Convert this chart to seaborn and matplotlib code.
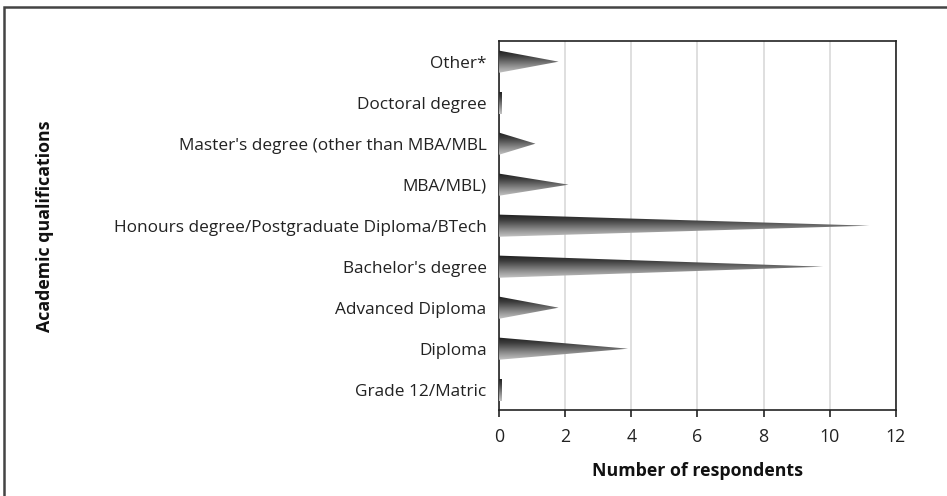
import matplotlib
matplotlib.use("Agg")
import matplotlib.pyplot as plt
from matplotlib.patches import Polygon, Rectangle
from matplotlib.colors import LinearSegmentedColormap
import numpy as np
import pandas as pd
import seaborn as sns

# Data
qualifications = [
    "Other*",
    "Doctoral degree",
    "Master's degree (other than MBA/MBL",
    "MBA/MBL)",
    "Honours degree/Postgraduate Diploma/BTech",
    "Bachelor's degree",
    "Advanced Diploma",
    "Diploma",
    "Grade 12/Matric",
]
respondents = [1.8, 0.1, 1.1, 2.1, 11.2, 9.8, 1.8, 3.9, 0.1]
x_ticks = [0, 2, 4, 6, 8, 10, 12]

df = pd.DataFrame({"qualification": qualifications, "respondents": respondents})

sns.set_theme(style="white")
plt.rcParams["font.family"] = ["Open Sans", "DejaVu Sans"]

fig = plt.figure(figsize=(9.47, 4.96), dpi=100)
ax = fig.add_axes([0.527, 0.173, 0.419, 0.744])

# seaborn lays out the categorical bars; they are then replaced by cones
sns.barplot(data=df, y="qualification", x="respondents", order=qualifications,
            orient="h", width=0.54, color="white", ax=ax, zorder=3)

cmap = LinearSegmentedColormap.from_list(
    "cone", ["#1e1e1e", "#3c3c3c", "#6a6a6a", "#9a9a9a", "#c4c4c4"])
grad = np.linspace(0, 1, 256).reshape(-1, 1)

for bar in list(ax.patches):
    x0 = bar.get_x()
    y0 = bar.get_y()
    h = bar.get_height()
    w = bar.get_width()
    bar.set_visible(False)
    if w < 0.2:
        # very small values show as a thin stub
        pts = [(x0, y0), (x0 + w, y0), (x0 + w, y0 + h), (x0, y0 + h)]
    else:
        pts = [(x0, y0), (x0, y0 + h), (x0 + w, y0 + h * 0.5)]
    poly = Polygon(pts, closed=True, facecolor="none", edgecolor="none", zorder=3)
    ax.add_patch(poly)
    # y axis is inverted: y0 is the upper edge of the cone
    im = ax.imshow(grad, cmap=cmap, aspect="auto", interpolation="bilinear",
                   extent=(x0, x0 + max(w, 0.01), y0 + h, y0), zorder=3)
    im.set_clip_path(poly)

ax.set_xlim(0, 12)
ax.set_ylim(len(qualifications) - 0.5, -0.5)
ax.set_xticks(x_ticks)
ax.set_xticklabels([str(t) for t in x_ticks])
ax.xaxis.grid(True, color="#d9d9d9", linewidth=1.2, zorder=0)
ax.yaxis.grid(False)
ax.set_axisbelow(True)

for s in ax.spines.values():
    s.set_visible(True)
    s.set_color("#222222")
    s.set_linewidth(1.2)

ax.tick_params(axis="x", which="major", bottom=True, length=5, width=1.2,
               color="#222222", labelsize=12.8, pad=8, labelcolor="#222222")
ax.tick_params(axis="y", left=False, labelsize=12.4, pad=3, labelcolor="#222222")

ax.set_xlabel("Number of respondents", fontsize=12.8, fontweight="bold",
              labelpad=11, color="#111111")
ax.set_ylabel("")
fig.text(0.0475, 0.544, "Academic qualifications", rotation=90, fontsize=12.8,
         fontweight="bold", ha="center", va="center", color="#111111")

# outer frame (right and bottom edges fall outside the image)
fig.patches.append(Rectangle((4 / 947, -0.1), 1.2, 1.1 - 7 / 496,
                             transform=fig.transFigure, fill=False,
                             edgecolor="#444444", linewidth=1.8))

fig.savefig("out.png", dpi=100)
